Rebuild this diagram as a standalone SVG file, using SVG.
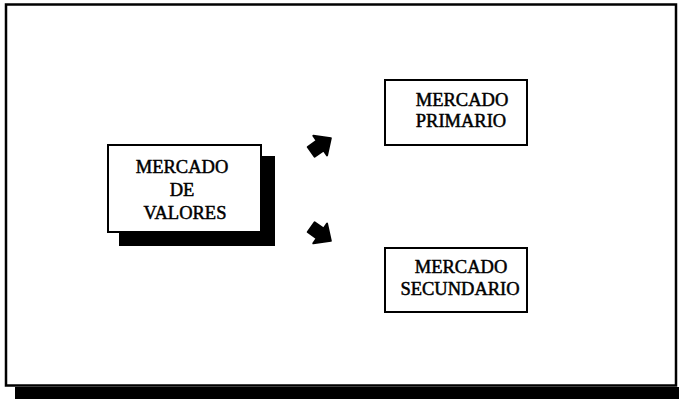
<svg xmlns="http://www.w3.org/2000/svg" width="679" height="399" viewBox="0 0 679 399">
<style>
.box{fill:#fff;stroke:#000;stroke-width:2}
.shadow{fill:#000}
.t{font-family:"Liberation Serif","Times New Roman",serif;font-size:18.5px;fill:#000;stroke:#000;stroke-width:0.5;text-anchor:middle}
.arr{fill:#000;stroke:#000;stroke-width:2;stroke-linejoin:round}
</style>
<defs>
<polygon id="barrow" points="-12,-6 -1,-6 -1,-12 12,0 -1,12 -1,6 -12,6"/>
</defs>
<g id="frame">
<rect class="shadow" x="15" y="387" width="664" height="12"/>
<rect x="6" y="4.5" width="670" height="381" fill="#fff" stroke="#000" stroke-width="2.5"/>
</g>
<g id="mercado-valores">
<rect class="shadow" x="119" y="156" width="156" height="90"/>
<rect class="box" x="108" y="145" width="153" height="87"/>
<text class="t" x="182" y="173">MERCADO</text>
<text class="t" x="182" y="196">DE</text>
<text class="t" x="185" y="219">VALORES</text>
</g>
<g id="mercado-primario">
<rect class="box" x="385" y="80" width="142" height="65"/>
<text class="t" x="462" y="106">MERCADO</text>
<text class="t" x="461" y="127">PRIMARIO</text>
</g>
<g id="mercado-secundario">
<rect class="box" x="385" y="248" width="142" height="64"/>
<text class="t" x="461" y="273">MERCADO</text>
<text class="t" x="460" y="295">SECUNDARIO</text>
</g>
<g id="connectors">
<use href="#barrow" class="arr" transform="translate(321,145) rotate(-35)"/>
<use href="#barrow" class="arr" transform="translate(321,234) rotate(35)"/>
</g>
</svg>
